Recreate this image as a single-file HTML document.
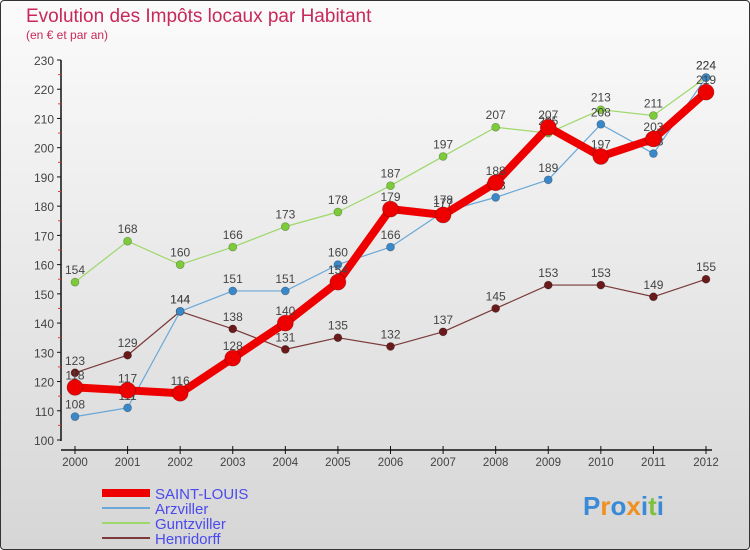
<!DOCTYPE html>
<html><head><meta charset="utf-8"><style>
body{margin:0;width:750px;height:550px;overflow:hidden;font-family:"Liberation Sans",sans-serif}
#wrap{position:absolute;left:0;top:0;width:748px;height:548px;border:1px solid #333;border-radius:4px;background:linear-gradient(#fbfbfb,#d6d6d6);}
</style></head><body>
<div id="wrap">
<svg id="chart" width="750" height="550" style="position:absolute;left:-1px;top:-1px"></svg>
</div>
<script>
const years=[2000,2001,2002,2003,2004,2005,2006,2007,2008,2009,2010,2011,2012];
const yTicks=[100,110,120,130,140,150,160,170,180,190,200,210,220,230];
const saintLouis=[118,117,116,128,140,154,179,177,188,207,197,203,219];
const arzviller=[108,111,144,151,151,160,166,178,183,189,208,198,224];
const guntzviller=[154,168,160,166,173,178,187,197,207,205,213,211,224];
const henridorff=[123,129,144,138,131,135,132,137,145,153,153,149,155];
const seriesNames=["SAINT-LOUIS","Arzviller","Guntzviller","Henridorff"];

const NS="http://www.w3.org/2000/svg";
const svg=document.getElementById('chart');
const x=i=>75+i*(706-75)/(years.length-1);
const y=v=>440-(v-100)*(380/130);
function el(t,a,p){const e=document.createElementNS(NS,t);for(const k in a)e.setAttribute(k,a[k]);(p||svg).appendChild(e);return e;}
function txt(s,a){const e=el('text',a);e.textContent=s;return e;}

let t=txt("Evolution des Impôts locaux par Habitant",{x:26,y:22,fill:"#c8285a","font-size":19});


t=txt("(en € et par an)",{x:26,y:39,fill:"#c8285a","font-size":12});



// axes
let a=el('line',{x1:61,y1:60,x2:61,y2:441,stroke:"#111","stroke-width":1.5});


a=el('line',{x1:61,y1:450,x2:712,y2:450,stroke:"#111","stroke-width":1.5});


yTicks.forEach((v,i)=>{
  el('line',{x1:57,y1:y(v),x2:61,y2:y(v),stroke:"#111"});
  if(i<yTicks.length-1) el('line',{x1:58,y1:y(v+5),x2:61,y2:y(v+5),stroke:"#e33"});
  const l=txt(v,{x:54,y:y(v)+5,"text-anchor":"end","font-size":12,fill:"#444"});
  
  
});
years.forEach((yr,i)=>{
  el('line',{x1:x(i),y1:446,x2:x(i),y2:454,stroke:"#111"});
  const l=txt(yr,{x:x(i),y:466,"text-anchor":"middle","font-size":11.5,fill:"#444"});
  
  
});

function series(data,color,w,r,dot,name){
  const g=el('g',{});
  
  
  el('polyline',{points:data.map((v,i)=>x(i)+","+y(v)).join(" "),fill:"none",stroke:color,"stroke-width":w,"stroke-linejoin":"round"},g);
  data.forEach((v,i)=>{
    const c=el('circle',{cx:x(i),cy:y(v),r:r,fill:dot,stroke:"rgba(0,0,0,0.3)","stroke-width":0.7},g);
    
    
    const l=el('text',{x:x(i),y:y(v)-8,"text-anchor":"middle","font-size":12,fill:"#444"},g);
    l.textContent=v;
    
    
  });
}
series(henridorff,"#7a3a3a",1.2,4,"#6a1a1a","henridorff");
series(guntzviller,"#9ed86a",1.2,4,"#7ccc3a","guntzviller");
series(arzviller,"#6aa8d8",1.2,4,"#3a88c8","arzviller");
series(saintLouis,"#ee0000",8,8,"#ee0000","saint-louis");

// legend
const legColors=["#ee0000","#6aa8d8","#9ed86a","#7a3a3a"];
const legW=[8,2,2,2];
seriesNames.forEach((n,i)=>{
  const ly=493+i*15;
  const g=el('g',{});
  
  
  el('line',{x1:102,y1:ly,x2:150,y2:ly,stroke:legColors[i],"stroke-width":legW[i]},g);
  const l=el('text',{x:155,y:ly+6,"font-size":15,fill:"#4a4aee"},g);
  l.textContent=n;
});
const logo=txt("",{x:583,y:515,"font-size":26,"font-weight":"bold"});


[["P","#3a8ad8"],["r","#f09020"],["o","#3a8ad8"],["x","#f09020"],["i","#3a8ad8"],["t","#80c040"],["i","#3a8ad8"]].forEach(([c,f])=>{const s=el('tspan',{fill:f},logo);s.textContent=c;});
</script>
</body></html>
